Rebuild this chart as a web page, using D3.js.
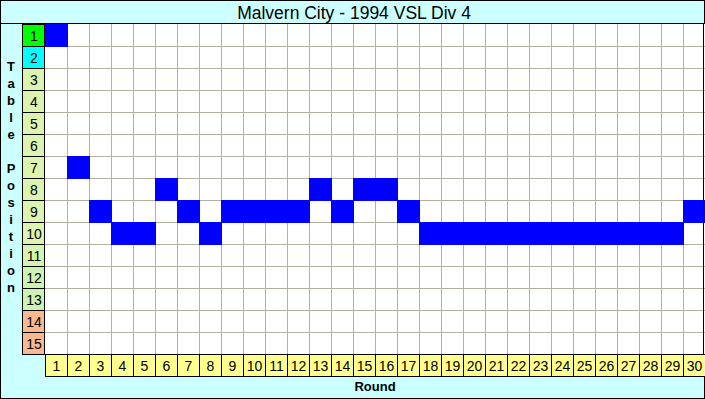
<html lang="en">
<head>
    <meta charset="UTF-8">
    <title>Malvern City - 1994 VSL Div 4</title>
    <style>
        body { margin: 0; background: #fff; }
        text { font-family: "Liberation Sans", Arial, sans-serif; }
    </style>
</head>
<body>
    <div id="graph"></div>
    <script src="https://d3js.org/d3.v7.min.js"></script>
    <script>
        // data
        var rounds = d3.range(1, 31);
        var positions = d3.range(1, 16);
        var tablePos = [1, 7, 9, 10, 10, 8, 9, 10, 9, 9, 9, 9, 8, 9, 8, 8, 9,
                        10, 10, 10, 10, 10, 10, 10, 10, 10, 10, 10, 10, 9];
        var posColors = ["#00ff00", "#00ffff", "#dcf4b0", "#dcf4b0", "#dcf4b0", "#dcf4b0",
                         "#dcf4b0", "#dcf4b0", "#dcf4b0", "#dcf4b0", "#d4f4b0", "#ccf2b4",
                         "#ccf2b4", "#f8b890", "#f8b890"];
        var title = "Malvern City - 1994 VSL Div 4";
        var yTitle = "Table Position";
        var xTitle = "Round";

        var width = 705, height = 399;
        var svg = d3.select("#graph").append("svg")
                    .attr("width", width)
                    .attr("height", height);

        // background + frame
        svg.append("rect")
            .attr("x", 0.5).attr("y", 0.5)
            .attr("width", width - 1).attr("height", height - 1)
            .attr("fill", "#ccffff")
            .attr("stroke", "#000");

        // scales
        var x = d3.scaleBand().domain(rounds).range([45, 705]);
        var y = d3.scaleBand().domain(positions).range([24, 354]);

        // plot area
        svg.append("rect")
            .attr("x", 45).attr("y", 24)
            .attr("width", 660).attr("height", 330)
            .attr("fill", "#fff");

        // grid lines
        svg.append("g").selectAll("line.v")
            .data(rounds.slice(1))
            .enter().append("line")
            .attr("x1", function(d) { return x(d) + 0.5; })
            .attr("x2", function(d) { return x(d) + 0.5; })
            .attr("y1", 24).attr("y2", 354)
            .attr("stroke", "#b4b0a0");
        svg.append("g").selectAll("line.h")
            .data(positions.slice(1))
            .enter().append("line")
            .attr("y1", function(d) { return y(d) + 0.5; })
            .attr("y2", function(d) { return y(d) + 0.5; })
            .attr("x1", 45).attr("x2", 705)
            .attr("stroke", "#b4b0a0");

        // position cells
        svg.append("g").selectAll("rect")
            .data(tablePos)
            .enter().append("rect")
            .attr("x", function(d, i) { return x(rounds[i]); })
            .attr("y", function(d) { return y(d); })
            .attr("width", x.bandwidth() + 1)
            .attr("height", y.bandwidth() + 1)
            .attr("fill", "#0000ff");

        // top and right border of the grid
        svg.append("line").attr("x1", 0).attr("x2", 705).attr("y1", 23.5).attr("y2", 23.5).attr("stroke", "#000");
        svg.append("line").attr("x1", 703.5).attr("x2", 703.5).attr("y1", 23).attr("y2", 377).attr("stroke", "#000");

        // left axis (table position labels)
        var left = svg.append("g");
        left.selectAll("rect")
            .data(positions)
            .enter().append("rect")
            .attr("x", 22.5)
            .attr("y", function(d) { return y(d) + 0.5; })
            .attr("width", 22)
            .attr("height", y.bandwidth())
            .attr("fill", function(d, i) { return posColors[i]; })
            .attr("stroke", "#000");
        left.selectAll("text")
            .data(positions)
            .enter().append("text")
            .attr("x", 34)
            .attr("y", function(d) { return y(d) + y.bandwidth() / 2 + 5.5; })
            .attr("text-anchor", "middle")
            .attr("font-size", 14)
            .text(function(d) { return d; });

        // bottom axis (round labels)
        var bottom = svg.append("g");
        bottom.selectAll("rect")
            .data(rounds)
            .enter().append("rect")
            .attr("x", function(d) { return x(d) + 0.5; })
            .attr("y", 354.5)
            .attr("width", x.bandwidth())
            .attr("height", 22)
            .attr("fill", "#ffff90")
            .attr("stroke", "#000");
        bottom.selectAll("text")
            .data(rounds)
            .enter().append("text")
            .attr("x", function(d) { return x(d) + x.bandwidth() / 2 + 0.5; })
            .attr("y", 371)
            .attr("text-anchor", "middle")
            .attr("font-size", 14)
            .text(function(d) { return d; });

        // title
        svg.append("text")
            .attr("x", 354)
            .attr("y", 19)
            .attr("text-anchor", "middle")
            .attr("font-size", 17.5)
            .text(title);

        // axis titles
        svg.append("text")
            .attr("x", 375)
            .attr("y", 391)
            .attr("text-anchor", "middle")
            .attr("font-size", 13)
            .attr("font-weight", "bold")
            .text(xTitle);

        svg.append("g").selectAll("text")
            .data(yTitle.split(""))
            .enter().append("text")
            .attr("x", 11)
            .attr("y", function(d, i) { return 71 + i * 17; })
            .attr("text-anchor", "middle")
            .attr("font-size", 13)
            .attr("font-weight", "bold")
            .text(function(d) { return d; });
    </script>
</body>
</html>
